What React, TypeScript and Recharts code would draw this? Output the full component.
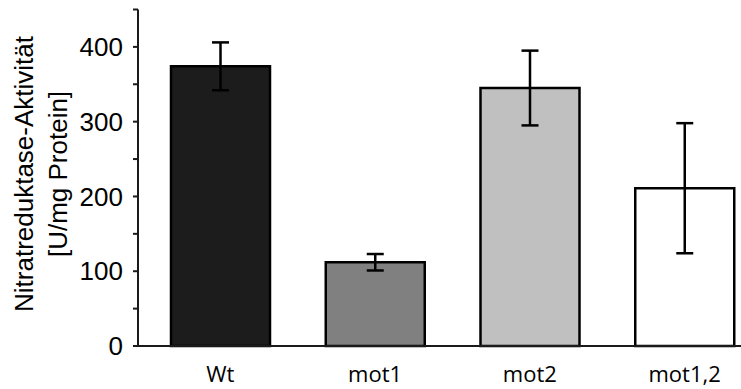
import { Bar, BarChart, Cell, ErrorBar, XAxis, YAxis } from "recharts"

const categories = ["Wt", "mot1", "mot2", "mot1,2"]
const activity = [374, 112, 345, 211]
const errors = [32, 11, 50, 87]
const fills = ["#1c1c1c", "#808080", "#c0c0c0", "#ffffff"]
const yTicks = [0, 50, 100, 150, 200, 250, 300, 350, 400, 450]

const data = categories.map((name, i) => ({
  name,
  value: activity[i],
  err: errors[i],
}))

const YTick = (props: any) => {
  const { x, y, payload } = props
  if (payload.value % 100 !== 0) return <g />
  return (
    <text
      x={x}
      y={y}
      dy="0.355em"
      textAnchor="end"
      fontSize={26}
      fontFamily="'Liberation Sans', Arial, sans-serif"
      fill="#000"
    >
      {payload.value}
    </text>
  )
}

const XTick = (props: any) => {
  const { x, y, payload } = props
  return (
    <text
      x={x}
      y={y}
      dy={36}
      textAnchor="middle"
      fontSize={22}
      fontFamily="'Open Sans', sans-serif"
      fill="#000"
    >
      {payload.value}
    </text>
  )
}

const YTitle = () => (
  <g fontFamily="'Liberation Sans', Arial, sans-serif" fontSize={26} fill="#000">
    <text transform="translate(33,174) rotate(-90)" textAnchor="middle">
      Nitratreduktase-Aktivität
    </text>
    <text transform="translate(66.5,174) rotate(-90)" textAnchor="middle">
      [U/mg Protein]
    </text>
  </g>
)

export default function App() {
  return (
    <div
      style={{
        position: "absolute",
        left: 0,
        top: 0,
        width: 741,
        height: 389,
        overflow: "hidden",
        background: "#fff",
      }}
    >
      <BarChart
        width={762}
        height={389}
        data={data}
        margin={{ top: 9.5, right: 0, bottom: 0, left: 0 }}
      >
        <XAxis
          dataKey="name"
          height={43}
          padding={{ left: 5, right: 0 }}
          tickLine={false}
          tickSize={0}
          tickMargin={0}
          tick={<XTick />}
          axisLine={{ stroke: "#1a1a1a", strokeWidth: 2 }}
        />
        <YAxis
          width={138}
          domain={[0, 450]}
          ticks={yTicks}
          interval={0}
          tickSize={5}
          tickMargin={10}
          tick={<YTick />}
          tickLine={{ stroke: "#1a1a1a", strokeWidth: 2 }}
          axisLine={{ stroke: "#1a1a1a", strokeWidth: 2 }}
          label={{ content: <YTitle /> }}
        />
        <Bar
          dataKey="value"
          barSize={99}
          stroke="#000"
          strokeWidth={2.5}
          isAnimationActive={false}
        >
          {data.map((d, i) => (
            <Cell key={d.name} fill={fills[i]} />
          ))}
          <ErrorBar dataKey="err" width={8.5} stroke="#000" strokeWidth={2.5} />
        </Bar>
      </BarChart>
    </div>
  )
}
